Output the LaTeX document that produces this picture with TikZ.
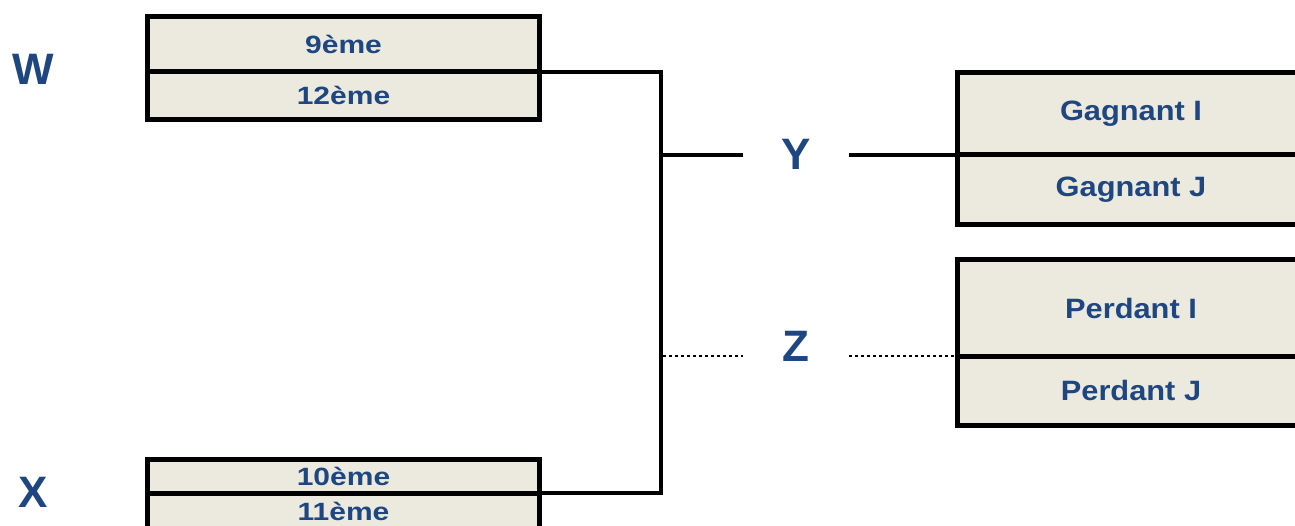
\documentclass[tikz,border=0pt]{standalone}
\usepackage{fontspec}
\setmainfont{Liberation Sans}
\definecolor{txtblue}{RGB}{30,70,128}
\definecolor{cellfill}{RGB}{236,234,223}
\newcommand{\cellA}[1]{\scalebox{1.2}[1]{\fontsize{25}{25}\selectfont\bfseries #1}}
\newcommand{\cellB}[1]{\scalebox{1.1}[1]{\fontsize{28}{28}\selectfont\bfseries #1}}
\tikzset{
  cell/.style={draw=black, line width=5pt, fill=cellfill, inner sep=0pt,
    outer sep=0pt, text=txtblue, anchor=center},
  leftcell/.style={cell, minimum width=392pt},
  rightcell/.style={cell, minimum width=347pt},
  letter/.style={text=txtblue, font=\fontsize{44}{44}\selectfont\bfseries, inner sep=0pt, outer sep=0pt},
  midletter/.style={letter, minimum width=106pt},
  conn/.style={draw=black, line width=4pt},
  dotconn/.style={draw=black, line width=2pt, dash pattern=on 3pt off 3pt}
}
\begin{document}
\begin{tikzpicture}[x=1pt,y=-1pt]
\useasboundingbox (0,0) rectangle (1295,526);
% left top box
\node[leftcell, minimum height=55.5pt] (w9) at (343.5,44.25) {\cellA{9ème}};
\node[leftcell, minimum height=47.5pt] (w12) at (343.5,95.75) {\cellA{12ème}};
% left bottom box
\node[leftcell, minimum height=34pt] (x10) at (343.5,476) {\cellA{10ème}};
\node[leftcell, minimum height=37pt] (x11) at (343.5,511.5) {\cellA{11ème}};
% right boxes
\node[rightcell, minimum height=82.5pt] (gI) at (1131,113.75) {\cellB{Gagnant I}};
\node[rightcell, minimum height=70pt] (gJ) at (1131,190) {\cellB{Gagnant J}};
\node[rightcell, minimum height=96pt] (pI) at (1131,308) {\cellB{Perdant I}};
\node[rightcell, minimum height=69pt] (pJ) at (1131,390.5) {\cellB{Perdant J}};
% letters
\node[letter] (W) at (33,69) {W};
\node[letter] (X) at (33,492) {X};
\node[midletter] (Y) at (796,154) {Y};
\node[midletter] (Z) at (796,346) {Z};
% connectors
\coordinate (jy) at (661,155);
\coordinate (jz) at (663,356);
\draw[conn] (w9.south east) -| (jy) |- (x10.south east);
\draw[conn] (jy) -- (jy -| Y.west);
\draw[conn] (jy -| Y.east) -- (gI.south west);
\draw[dotconn] (jz) -- (jz -| Z.west);
\draw[dotconn] (jz -| Z.east) -- (pI.south west);
\end{tikzpicture}
\end{document}
